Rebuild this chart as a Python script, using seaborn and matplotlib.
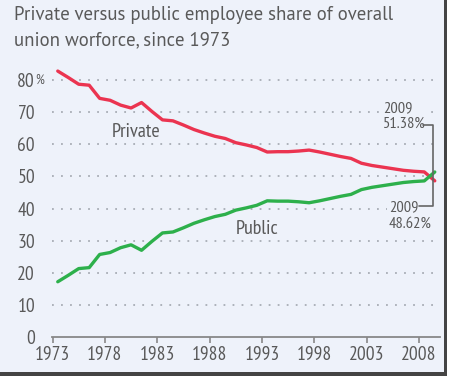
import matplotlib
matplotlib.use("Agg")
import matplotlib.pyplot as plt
import pandas as pd
import seaborn as sns
from matplotlib.patches import Rectangle

years = list(range(1973, 2010))
private = [82.8, 80.8, 78.7, 78.4, 74.3, 73.7, 72.2, 71.3, 73.0, 70.2,
           67.6, 67.3, 66.0, 64.6, 63.5, 62.5, 61.8, 60.5, 59.8, 59.0,
           57.6, 57.7, 57.7, 57.9, 58.2, 57.6, 56.9, 56.2, 55.6, 54.1,
           53.4, 52.9, 52.4, 51.9, 51.6, 51.4, 48.62]
public = [17.2, 19.2, 21.3, 21.6, 25.7, 26.3, 27.8, 28.7, 27.0, 29.8,
          32.4, 32.7, 34.0, 35.4, 36.5, 37.5, 38.2, 39.5, 40.2, 41.0,
          42.4, 42.3, 42.3, 42.1, 41.8, 42.4, 43.1, 43.8, 44.4, 45.9,
          46.6, 47.1, 47.6, 48.1, 48.4, 48.6, 51.38]
tick_years = [1973, 1978, 1983, 1988, 1993, 1998, 2003, 2008]
y_ticks = [0, 10, 20, 30, 40, 50, 60, 70, 80]

BG = "#eef2fa"
GRAY = "#595959"
RED = "#eb3450"
GREEN = "#2db04b"

sns.set_theme(style="white")
plt.rcParams["font.family"] = ["PT Sans Narrow", "Roboto Condensed", "DejaVu Sans"]
TITLE_FONT = ["PT Sans", "DejaVu Sans"]

df = pd.DataFrame({
    "year": years * 2,
    "share": private + public,
    "sector": ["Private"] * len(years) + ["Public"] * len(years),
})

W, H = 449, 377
fig = plt.figure(figsize=(W / 100, H / 100), dpi=100, facecolor="white")
# panel with a dark shadow on the right and bottom
fig.patches.append(Rectangle((0, 1 / H), 447 / W, 1, transform=fig.transFigure,
                             facecolor="#444444", edgecolor="none", zorder=-3))
fig.patches.append(Rectangle((0, 5 / H), 444 / W, 1, transform=fig.transFigure,
                             facecolor=BG, edgecolor="none", zorder=-2))

ax = fig.add_axes([52 / W, (H - 337) / H, 388 / W, 273 / H])
ax.patch.set_alpha(0)

sns.lineplot(data=df, x="year", y="share", hue="sector",
             palette={"Private": RED, "Public": GREEN},
             linewidth=2.4, legend=False, ax=ax, zorder=3)

ax.set_xlim(1972.45, 2009.5)
ax.set_ylim(0, 85)

for v in y_ticks[1:]:
    ax.axhline(v, color="#a8adb5", linestyle=(0, (1, 4)), linewidth=1.3, zorder=1)

ax.set_yticks(y_ticks)
ax.set_yticklabels([str(v) for v in y_ticks])
ax.set_xticks([y - 0.5 for y in tick_years])
ax.set_xticklabels([str(y) for y in tick_years])
ax.tick_params(axis="y", length=0, pad=12.2, labelsize=14, labelcolor=GRAY)
ax.tick_params(axis="x", direction="out", length=4.3, width=1.2, color="#888888",
               pad=2.5, labelsize=14, labelcolor=GRAY, bottom=True)
ax.text(-16.5 / 388, 80, "%", transform=ax.get_yaxis_transform(),
        ha="left", va="center", fontsize=10, color=GRAY)

for side in ["top", "right", "left"]:
    ax.spines[side].set_visible(False)
ax.spines["bottom"].set_color("#888888")
ax.spines["bottom"].set_linewidth(1.3)
ax.set_xlabel("")
ax.set_ylabel("")

box = dict(facecolor=BG, edgecolor="none", pad=1.5)
ax.text(1980.5, 63.9, "Private", fontsize=14.5, color=GRAY, ha="center", va="center", zorder=4)
ax.text(1992.0, 33.6, "Public", fontsize=14.5, color=GRAY, ha="center", va="center", zorder=4)
ax.text(2004.1, 68.8, "2009\n51.38%", fontsize=11.8, color=GRAY, ha="left", va="center",
        linespacing=1.2, bbox=box, zorder=4)
ax.text(2004.6, 37.8, "2009\n48.62%", fontsize=11.8, color=GRAY, ha="left", va="center",
        linespacing=1.2, bbox=box, zorder=4)
ax.plot([2007.9, 2008.84, 2008.84, 2007.5], [66.0, 66.0, 40.8, 40.8],
        color="#666666", linewidth=1.2, clip_on=False, zorder=4)

fig.text(14 / W, 1 - 20.5 / H, "Private versus public employee share of overall",
         ha="left", va="baseline", fontsize=13.5, color=GRAY, family=TITLE_FONT)
fig.text(14 / W, 1 - 45 / H, "union worforce, since 1973",
         ha="left", va="baseline", fontsize=13.5, color=GRAY, family=TITLE_FONT)

fig.savefig("out.png", dpi=100, facecolor=fig.get_facecolor())
